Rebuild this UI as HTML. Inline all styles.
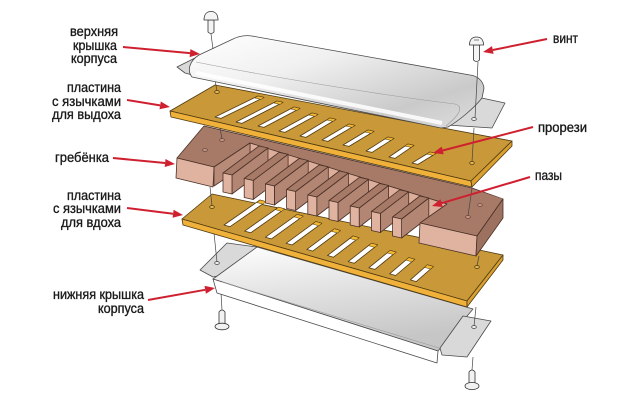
<!DOCTYPE html>
<html><head><meta charset="utf-8">
<style>html,body{margin:0;padding:0;background:#fff}svg{display:block}</style>
</head><body>
<svg width="640" height="405" viewBox="0 0 640 405" xmlns="http://www.w3.org/2000/svg">
<defs>
<linearGradient id="gCover" x1="0" y1="0" x2="1" y2="1">
<stop offset="0" stop-color="#ffffff"/><stop offset="0.35" stop-color="#f0f0f0"/><stop offset="0.75" stop-color="#cacaca"/><stop offset="1" stop-color="#dedede"/>
</linearGradient>
<linearGradient id="gTray" x1="0" y1="0" x2="0.3" y2="1">
<stop offset="0" stop-color="#ffffff"/><stop offset="0.45" stop-color="#e4e4e4"/><stop offset="1" stop-color="#c6c6c6"/>
</linearGradient>
</defs>
<rect width="640" height="405" fill="#fff"/>

<!-- bottom screws -->
<g stroke="#333" stroke-width="0.8" fill="#f2f2f2">
<path d="M219,312 Q222,308 225,312 L225,325 L219,325 Z"/>
<ellipse cx="222" cy="326.5" rx="7" ry="3.3"/>
<path d="M469,372 Q472,368 475,372 L475,384 L469,384 Z"/>
<ellipse cx="472" cy="386" rx="7" ry="3.6"/>
</g>
<g stroke="#444" stroke-width="0.7">
<line x1="220" y1="276" x2="222" y2="310"/>
<line x1="473" y1="357" x2="472" y2="370"/>
</g>

<!-- bottom cover -->
<g stroke="#4a4a4a" stroke-width="0.8" stroke-linejoin="round">
<polygon points="200,270 227,243 257,247 232,273 213,277" fill="#d9d9d9"/>
<polygon points="213,279 257,247 473,309 438,351" fill="url(#gTray)"/>
<polygon points="213,279 438,351 437,363 217,293" fill="#ffffff"/>
<polyline points="222,282 439,348" fill="none" stroke="#9a9a9a" stroke-width="0.6"/>
<polygon points="440,348 463,316 491,321 467,357 442,355" fill="#d9d9d9"/>
<ellipse cx="217" cy="263" rx="2.3" ry="1.5" fill="#eee"/>
<ellipse cx="474" cy="327" rx="2.3" ry="1.5" fill="#eee"/>
</g>
<g stroke="#444" stroke-width="0.7">
<line x1="214" y1="233" x2="217" y2="262"/>
<line x1="476" y1="307" x2="474" y2="326"/>
</g>

<!-- inhale plate -->
<g stroke="#4f3a12" stroke-width="0.8" stroke-linejoin="round">
<polygon points="182,219 212,194 503,255 467,301" fill="#c99838"/>
<polygon points="182,219 467,301 467,307 183,225" fill="#efb13a"/>
<polygon points="467,301 503,255 503,260 467,307" fill="#d9a030"/>
<g fill="#ffffff">
<polygon points="224,225 260,200 266,201.7 230,226.7"/>
<polygon points="244.7,231.1 278.6,207.2 284.6,208.9 250.7,232.8"/>
<polygon points="265.4,237.2 297.2,214.4 303.2,216.1 271.4,238.9"/>
<polygon points="286.1,243.3 315.8,221.6 321.8,223.3 292.1,245"/>
<polygon points="306.8,249.4 334.4,228.8 340.4,230.5 312.8,251.1"/>
<polygon points="327.5,255.5 353,236 359,237.7 333.5,257.2"/>
<polygon points="348.2,261.6 371.6,243.2 377.6,244.9 354.2,263.3"/>
<polygon points="368.9,267.7 390.2,250.4 396.2,252.1 374.9,269.4"/>
<polygon points="389.6,273.8 408.8,257.6 414.8,259.3 395.6,275.5"/>
<polygon points="410.3,279.9 427.4,264.8 433.4,266.5 416.3,281.6"/>
</g>
<g fill="#f3b830" stroke-width="0.5">
<polygon points="260,200 266,201.7 263,204.2 257,202.5"/>
<polygon points="278.6,207.2 284.6,208.9 281.6,211.4 275.6,209.7"/>
<polygon points="297.2,214.4 303.2,216.1 300.2,218.6 294.2,216.9"/>
<polygon points="315.8,221.6 321.8,223.3 318.8,225.8 312.8,224.1"/>
<polygon points="334.4,228.8 340.4,230.5 337.4,233 331.4,231.3"/>
<polygon points="353,236 359,237.7 356,240.2 350,238.5"/>
<polygon points="371.6,243.2 377.6,244.9 374.6,247.4 368.6,245.7"/>
<polygon points="390.2,250.4 396.2,252.1 393.2,254.6 387.2,252.9"/>
<polygon points="408.8,257.6 414.8,259.3 411.8,261.8 405.8,260.1"/>
<polygon points="427.4,264.8 433.4,266.5 430.4,269 424.4,267.3"/>
</g>
<ellipse cx="212" cy="207" rx="2.3" ry="1.5" fill="#e8b850"/>
<ellipse cx="477" cy="267" rx="2.3" ry="1.5" fill="#e8b850"/>
</g>
<g stroke="#444" stroke-width="0.7">
<line x1="210" y1="187" x2="212" y2="206"/>
<line x1="479" y1="256" x2="477" y2="266"/>
</g>

<!-- comb -->
<g stroke="#4a3026" stroke-width="0.8" stroke-linejoin="round">
<polygon points="177,158 204,126 472,188 503,199 477,236 420,223 447,204 250,143 214,167" fill="#a77a67"/>
<polygon points="250,143 447,204 447,223 250,162" fill="#dcae9b"/>
<polygon points="214,167 250,143 250,162 214,186" fill="#b88b78"/>
<polygon points="177,158 214,167 213,187 176,178" fill="#e0b3a1"/>
<g>
<polygon points="232,175 268,148 268,167 232,194" fill="#b38674"/>
<polygon points="223,173 232,175 268,148 259,146" fill="#a77a67"/>
<polygon points="223,173 232,175 232,194 223,192" fill="#e0b3a1"/>
<polygon points="253.2,180.5 288.1,154.3 288.1,173.3 253.2,199.5" fill="#b38674"/>
<polygon points="244.2,178.5 253.2,180.5 288.1,154.3 279.1,152.3" fill="#a77a67"/>
<polygon points="244.2,178.5 253.2,180.5 253.2,199.5 244.2,197.5" fill="#e0b3a1"/>
<polygon points="274.4,186 308.2,160.5 308.2,179.5 274.4,205" fill="#b38674"/>
<polygon points="265.4,184 274.4,186 308.2,160.5 299.2,158.5" fill="#a77a67"/>
<polygon points="265.4,184 274.4,186 274.4,205 265.4,203" fill="#e0b3a1"/>
<polygon points="295.6,191.5 328.3,166.8 328.3,185.8 295.6,210.5" fill="#b38674"/>
<polygon points="286.6,189.5 295.6,191.5 328.3,166.8 319.3,164.8" fill="#a77a67"/>
<polygon points="286.6,189.5 295.6,191.5 295.6,210.5 286.6,208.5" fill="#e0b3a1"/>
<polygon points="316.8,197 348.4,173 348.4,192 316.8,216" fill="#b38674"/>
<polygon points="307.8,195 316.8,197 348.4,173 339.4,171" fill="#a77a67"/>
<polygon points="307.8,195 316.8,197 316.8,216 307.8,214" fill="#e0b3a1"/>
<polygon points="338,202.5 368.5,179.3 368.5,198.3 338,221.5" fill="#b38674"/>
<polygon points="329,200.5 338,202.5 368.5,179.3 359.5,177.3" fill="#a77a67"/>
<polygon points="329,200.5 338,202.5 338,221.5 329,219.5" fill="#e0b3a1"/>
<polygon points="359.2,208 388.6,185.5 388.6,204.5 359.2,227" fill="#b38674"/>
<polygon points="350.2,206 359.2,208 388.6,185.5 379.6,183.5" fill="#a77a67"/>
<polygon points="350.2,206 359.2,208 359.2,227 350.2,225" fill="#e0b3a1"/>
<polygon points="380.4,213.5 408.7,191.8 408.7,210.8 380.4,232.5" fill="#b38674"/>
<polygon points="371.4,211.5 380.4,213.5 408.7,191.8 399.7,189.8" fill="#a77a67"/>
<polygon points="371.4,211.5 380.4,213.5 380.4,232.5 371.4,230.5" fill="#e0b3a1"/>
<polygon points="401.6,219 428.8,198 428.8,217 401.6,238" fill="#b38674"/>
<polygon points="392.6,217 401.6,219 428.8,198 419.8,196" fill="#a77a67"/>
<polygon points="392.6,217 401.6,219 401.6,238 392.6,236" fill="#e0b3a1"/>
</g>
<polygon points="420,223 447,204 470,188 503,199 477,236" fill="#a77a67" stroke="none"/>
<polyline points="420,223 447,204" fill="none"/>
<polyline points="503,199 477,236 420,223" fill="none"/>
<polygon points="420,223 477,236 476,256 419,243" fill="#e0b3a1"/>
<polygon points="477,236 503,199 503,218 476,256" fill="#9c7160"/>
<g fill="#c39483" stroke-width="0.6">
<ellipse cx="205" cy="150" rx="2.3" ry="1.5"/>
<ellipse cx="222" cy="140" rx="2.3" ry="1.5"/>
<ellipse cx="468" cy="217" rx="2.3" ry="1.5"/>
<ellipse cx="480" cy="205" rx="2.3" ry="1.5"/>
</g>
</g>
<g stroke="#444" stroke-width="0.7">
<line x1="220" y1="128" x2="222" y2="139"/>
<line x1="472" y1="188" x2="468" y2="216"/>
</g>

<!-- exhale plate -->
<g stroke="#4f3a12" stroke-width="0.8" stroke-linejoin="round">
<polygon points="170,111 215,85 512,141 471,181" fill="#c99838"/>
<polygon points="170,111 471,181 472,187 171,117" fill="#efb13a"/>
<polygon points="471,181 512,141 512,146 472,187" fill="#d9a030"/>
<g fill="#ffffff">
<polygon points="215,117 258,96 264,97.4 221,118.4"/>
<polygon points="236,122 277,101 283,102.4 242,123.4"/>
<polygon points="258,126 294,107 300,108.4 264,127.4"/>
<polygon points="279,131 312,113 318,114.4 285,132.4"/>
<polygon points="300,136 330,118 336,119.4 306,137.4"/>
<polygon points="322,140 349,124 355,125.4 328,141.4"/>
<polygon points="343,145 368,130 374,131.4 349,146.4"/>
<polygon points="366,151 388,137 394,138.4 372,152.4"/>
<polygon points="389,157 408,144 414,145.4 395,158.4"/>
<polygon points="412,163 430,152 436,153.4 418,164.4"/>
</g>
<g fill="#f3b830" stroke-width="0.5">
<polygon points="258,96 264,97.4 261,99.4 255,98"/>
<polygon points="277,101 283,102.4 280,104.4 274,103"/>
<polygon points="294,107 300,108.4 297,110.4 291,109"/>
<polygon points="312,113 318,114.4 315,116.4 309,115"/>
<polygon points="330,118 336,119.4 333,121.4 327,120"/>
<polygon points="349,124 355,125.4 352,127.4 346,126"/>
<polygon points="368,130 374,131.4 371,133.4 365,132"/>
<polygon points="388,137 394,138.4 391,140.4 385,139"/>
<polygon points="408,144 414,145.4 411,147.4 405,146"/>
<polygon points="430,152 436,153.4 433,155.4 427,154"/>
</g>
<ellipse cx="217" cy="92" rx="2.3" ry="1.5" fill="#e8b850"/>
<ellipse cx="472" cy="163" rx="2.3" ry="1.5" fill="#e8b850"/>
</g>
<g stroke="#444" stroke-width="0.7">
<line x1="215" y1="80" x2="217" y2="91"/>
</g>

<!-- top cover -->
<g stroke="#4a4a4a" stroke-width="0.8" stroke-linejoin="round">
<polygon points="447,125 477,97 505,103 492,128" fill="#d9d9d9"/>
<ellipse cx="474" cy="119" rx="2.3" ry="1.5" fill="#eee"/>
<polygon points="177,67 199,56 212,56 196,76 185,73" fill="#d9d9d9"/>
<path d="M192,77 C187,71 189,61 199,55 L233,39 C239,36 245,35 252,36 L470,75 C478,76 483,81 484,88 L482,98 C474,108 460,120 448,127 L441,128 Z" fill="url(#gCover)"/>
<path d="M196,62 C260,75 380,95 455,104 C462,106 463,112 446,126" fill="none" stroke="#9a9a9a" stroke-width="0.6"/>
<path d="M196,73 L442,123" fill="none" stroke="#ffffff" stroke-width="4" opacity="0.85"/>
</g>

<!-- top screws -->
<g stroke="#333" stroke-width="0.8" fill="#f4f4f4">
<path d="M208,20 L214,20 L214,32 Q211,35 208,32 Z"/>
<path d="M204,20 C204,14 207,11.5 211,11.5 C215,11.5 218,14 218,20 Z"/>
<path d="M473.5,45 L479.5,45 L479.5,60 Q476.5,63 473.5,60 Z"/>
<path d="M469.5,45 C469.5,39.5 472.5,37 476.5,37 C480.5,37 483.5,39.5 483.5,45 Z"/>
<line x1="474" y1="40" x2="479" y2="40" stroke-width="0.6"/>
</g>
<g stroke="#444" stroke-width="0.7">
<line x1="211" y1="34" x2="213" y2="49"/>
<line x1="478" y1="62" x2="475" y2="118"/>
<line x1="474" y1="128" x2="472" y2="162"/>
</g>

<!-- arrows -->
<g stroke="#cf2030" stroke-width="2" fill="none">
<line x1="123" y1="47" x2="190" y2="53.1"/>
<line x1="127" y1="100" x2="160.1" y2="105.4"/>
<line x1="113" y1="158" x2="165.1" y2="163"/>
<line x1="127" y1="208" x2="173.1" y2="213.8"/>
<line x1="148" y1="300" x2="205.2" y2="289.8"/>
<line x1="547" y1="39" x2="492.8" y2="50"/>
<line x1="533" y1="127" x2="442.7" y2="150.5"/>
<line x1="530" y1="177" x2="441.6" y2="203.2"/>
</g>
<g fill="#cf2030">
<polygon points="200,54 189.6,57.1 190.4,49.1"/>
<polygon points="170,107 159.5,109.3 160.8,101.5"/>
<polygon points="175,164 164.7,167 165.5,159"/>
<polygon points="183,215 172.6,217.8 173.6,209.8"/>
<polygon points="215,288 205.9,293.7 204.5,285.9"/>
<polygon points="483,52 492,46.1 493.6,53.9"/>
<polygon points="433,153 441.7,146.6 443.7,154.4"/>
<polygon points="432,206 440.5,199.3 442.7,207"/>
</g>

<!-- labels -->
<g font-family="'Liberation Sans', 'DejaVu Sans', sans-serif" font-size="14" fill="#1a1a1a" stroke="#1a1a1a" stroke-width="0.35">
<text x="70" y="36" textLength="48" lengthAdjust="spacingAndGlyphs">верхняя</text>
<text x="73" y="50" textLength="44" lengthAdjust="spacingAndGlyphs">крышка</text>
<text x="71" y="63" textLength="46" lengthAdjust="spacingAndGlyphs">корпуса</text>
<text x="67" y="92" textLength="54" lengthAdjust="spacingAndGlyphs">пластина</text>
<text x="52" y="106" textLength="69" lengthAdjust="spacingAndGlyphs">с язычками</text>
<text x="52" y="119" textLength="69" lengthAdjust="spacingAndGlyphs">для выдоха</text>
<text x="55" y="162" textLength="54" lengthAdjust="spacingAndGlyphs">гребёнка</text>
<text x="67" y="200" textLength="54" lengthAdjust="spacingAndGlyphs">пластина</text>
<text x="53" y="213" textLength="68" lengthAdjust="spacingAndGlyphs">с язычками</text>
<text x="61" y="227" textLength="60" lengthAdjust="spacingAndGlyphs">для вдоха</text>
<text x="53" y="299" textLength="91" lengthAdjust="spacingAndGlyphs">нижняя крышка</text>
<text x="98" y="313" textLength="46" lengthAdjust="spacingAndGlyphs">корпуса</text>
<text x="553" y="43" textLength="25" lengthAdjust="spacingAndGlyphs">винт</text>
<text x="538" y="132" textLength="49" lengthAdjust="spacingAndGlyphs">прорези</text>
<text x="535" y="180" textLength="27" lengthAdjust="spacingAndGlyphs">пазы</text>
</g>
</svg>
</body></html>
